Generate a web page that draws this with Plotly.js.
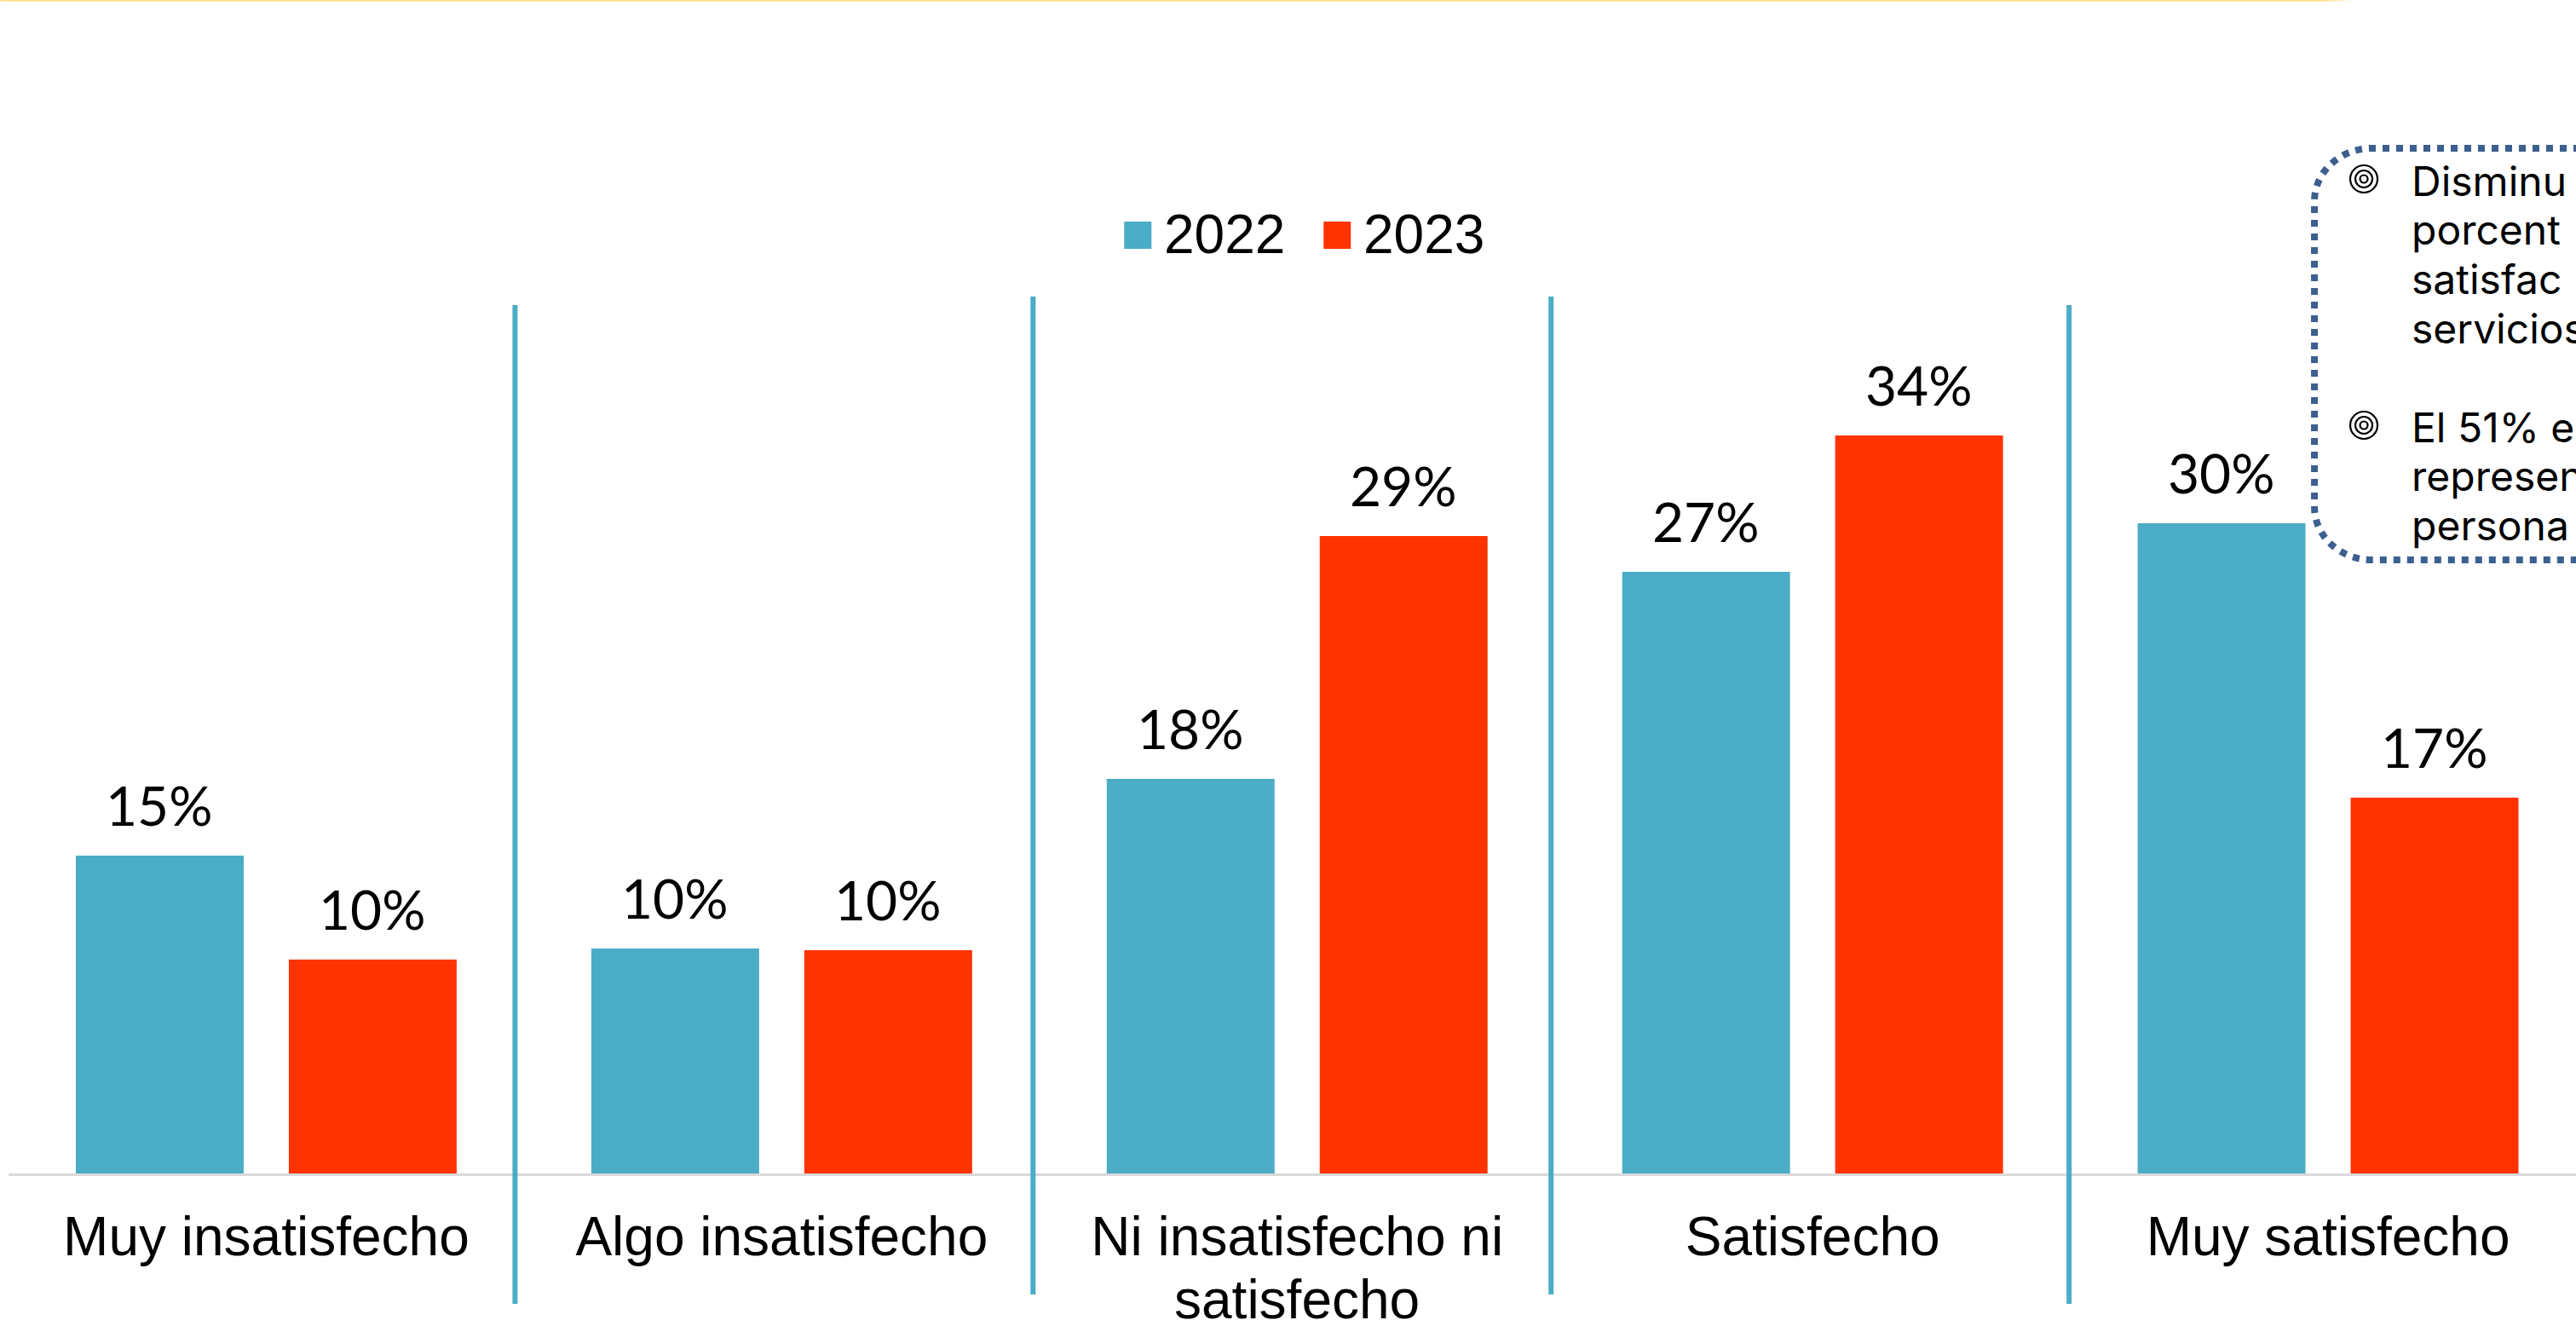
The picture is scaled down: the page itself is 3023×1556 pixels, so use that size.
<!DOCTYPE html>
<html>
<head>
<meta charset="utf-8">
<script src="https://cdn.plot.ly/plotly-3.0.1.min.js"></script>
<style>html,body{margin:0;padding:0;background:#fff;overflow:hidden}#chart{width:3023px;height:1556px}</style>
</head>
<body>
<div id="chart"></div>
<script>
const categories = ["Muy insatisfecho","Algo insatisfecho","Ni insatisfecho ni satisfecho","Satisfecho","Muy satisfecho"];
const tickLabels = ["Muy insatisfecho","Algo insatisfecho","Ni insatisfecho ni","Satisfecho","Muy satisfecho"];
const values2022 = [14.52,10.28,18.02,27.48,29.70];
const values2023 = [9.77,10.20,29.12,33.71,17.17];
const labels2022 = ["15%","10%","18%","27%","30%"];
const labels2023 = ["10%","10%","29%","34%","17%"];
const boxLines = [
  ["Disminu",229],["porcent",286],["satisfac",344],["servicios",402],
  ["El 51% es",518],["represen",575],["persona",633]
];
const blue = "#4BACC6", red = "#FF3300";
const W = 3023, H = 1556, L = 9.5, B = 1377, PH = 1028, PW = W - L;
const X = p => (p - L) / PW, Y = p => (B - p) / PH;

const bar = (name, y, text, color) => ({
  type: "bar", name, x: categories, y, text, marker: {color, line: {width: 0}},
  textposition: "none", cliponaxis: false, hoverinfo: "skip"
});

const shapes = [];
const paperShape = o => shapes.push(Object.assign({xref: "paper", yref: "paper"}, o));
// dividers between categories
[[604,358,1530],[1212,348,1519],[1820,348,1519],[2428,358,1530]].forEach(([x, t, b]) =>
  paperShape({type: "line", x0: X(x), x1: X(x), y0: Y(t), y1: Y(b), line: {color: blue, width: 6}}));
// top rule with fade
[[0,2730,"#FFDD7A"],[2730,2740,"#FFE59C"],[2740,2750,"#FFEFC4"],[2750,2758,"#FFF8E6"]].forEach(([a, b, c]) =>
  paperShape({type: "rect", x0: X(a), x1: X(b), y0: Y(-1), y1: Y(1.5), line: {width: 0}, fillcolor: c}));
// legend swatches
paperShape({type: "rect", x0: X(1319), x1: X(1351), y0: Y(260), y1: Y(292), line: {width: 0}, fillcolor: blue});
paperShape({type: "rect", x0: X(1553), x1: X(1585), y0: Y(260), y1: Y(292), line: {width: 0}, fillcolor: red});
// dotted call-out box
const px = (x, y) => X(x) + " " + Y(y);
paperShape({type: "path",
  path: "M " + px(3060,174) + " L " + px(2783,174) + " C " + px(2746,174) + " " + px(2716,202) + " " + px(2716,236) +
        " L " + px(2716,595) + " C " + px(2716,629) + " " + px(2746,657) + " " + px(2783,657) + " L " + px(3060,657),
  line: {color: "#3C5F8F", width: 8, dash: "8px,8px"}, fillcolor: "rgba(0,0,0,0)"});
// target bullets
[210,499].forEach(cy => [16,10,4.5].forEach(r =>
  paperShape({type: "circle", x0: X(2774-r), x1: X(2774+r), y0: Y(cy-r), y1: Y(cy+r), line: {color: "#000", width: 2.2}})));

const annotations = [];
const ann = (text, x, y, size, family, anchor) => annotations.push({
  text, xref: "paper", yref: "paper", x: X(x), y: Y(y), xanchor: anchor, yanchor: "middle",
  showarrow: false, borderpad: 0, font: {size, family, color: "#000"}
});
const ARIAL = "Liberation Sans, Arial, sans-serif", BODY = "Lato, sans-serif";
ann("2022", 1365, 275, 64, ARIAL, "left");
ann("2023", 1599, 275, 64, ARIAL, "left");
boxLines.forEach(([t, base]) => ann(t, 2829, base - 17, 48, "Inter, sans-serif", "left"));
// second line of the wrapped category label
annotations.push({text: "satisfecho", xref: "x", yref: "paper", x: categories[2], y: Y(1525), xanchor: "center",
  yanchor: "middle", showarrow: false, font: {size: 64, family: ARIAL, color: "#000"}});
// data labels, anchored to bar tops through the axis scales
const slot = 125;
[[values2022, labels2022, -slot],[values2023, labels2023, slot]].forEach(([vals, labs, dx]) =>
  vals.forEach((v, i) => annotations.push({
    text: labs[i], xref: "x", yref: "y", x: categories[i], y: v, xshift: dx, yshift: 20,
    xanchor: "center", yanchor: "bottom", showarrow: false, borderpad: 0,
    font: {size: 64, family: BODY, color: "#000"}
  })));

const data = [bar("2022", values2022, labels2022, blue), bar("2023", values2023, labels2023, red)];
const layout = {
  width: W, height: H, showlegend: false,
  margin: {l: L, r: 0, t: B - PH, b: H - B, pad: 0},
  paper_bgcolor: "#fff", plot_bgcolor: "#fff",
  barmode: "group", bargap: 0.1736, bargroupgap: 0.212,
  font: {family: ARIAL, color: "#000"},
  xaxis: {type: "category", range: [-0.5, -0.5 + PW / 605], tickmode: "array", tickvals: categories, ticktext: tickLabels,
    showline: true, linecolor: "#D9D9D9", linewidth: 3, showgrid: false, zeroline: false,
    ticks: "outside", ticklen: 16, tickwidth: 0, tickcolor: "rgba(0,0,0,0)", tickangle: 0,
    tickfont: {size: 64, family: ARIAL, color: "#000"}},
  yaxis: {range: [0, PH / 25.69], visible: false, fixedrange: true},
  shapes, annotations
};
Plotly.newPlot("chart", data, layout, {displayModeBar: false, staticPlot: true});
</script>
</body>
</html>
